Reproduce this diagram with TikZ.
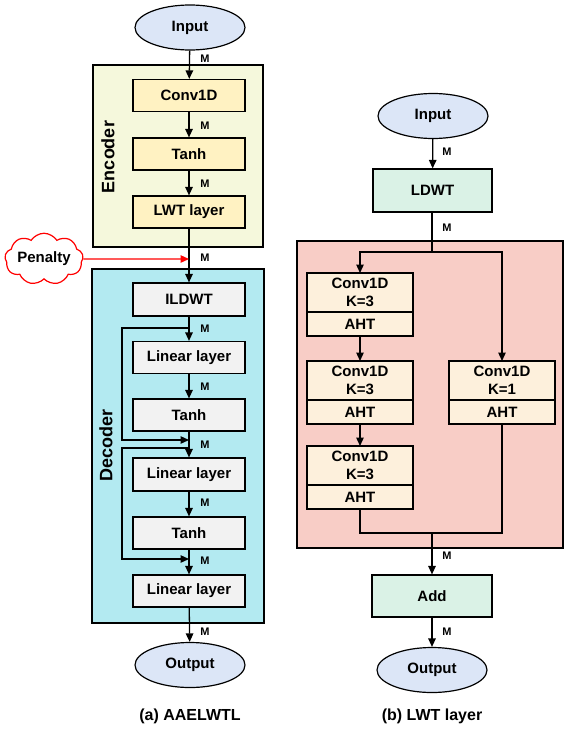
\documentclass[tikz,border=0pt]{standalone}
\usepackage{fontspec}
\setmainfont{Liberation Sans}
\usetikzlibrary{arrows.meta,positioning,shapes.geometric,shapes.symbols}

\definecolor{ellblue}{HTML}{DCE6F7}
\definecolor{encbg}{HTML}{F5F8DC}
\definecolor{encbox}{HTML}{FFF2C2}
\definecolor{decbg}{HTML}{B3EAF1}
\definecolor{decbox}{HTML}{F2F2F2}
\definecolor{mint}{HTML}{DAF2E6}
\definecolor{pinkbg}{HTML}{F8CDC6}
\definecolor{peach}{HTML}{FDF0DC}

\newcommand{\boxfont}{\bfseries\fontsize{15}{17.5}\selectfont}

\tikzset{
  arr/.style={line width=1.3pt, -{Triangle[length=8.5pt,width=7.5pt]}},
  wire/.style={line width=1.3pt},
  io/.style={ellipse, draw, line width=1.2pt, fill=ellblue, minimum width=110pt, minimum height=45pt, font=\boxfont},
  layerbox/.style={rectangle, draw, line width=1.2pt, minimum width=112pt, minimum height=32pt, font=\boxfont},
  convbox/.style={rectangle, draw, line width=1.2pt, fill=peach, minimum width=106pt, minimum height=39pt, inner sep=1pt, outer sep=0pt, align=center, font=\boxfont},
  ahtbox/.style={convbox, minimum height=24pt},
  mlab/.style={font=\bfseries\fontsize{11}{12}\selectfont, inner sep=0pt}
}

\begin{document}
\begin{tikzpicture}[x=1pt,y=-1pt]
        \useasboundingbox (0,0) rectangle (569,731);

        %background boxes for encoder, decoder and the LWT layer
        \draw[line width=1.2pt, fill=encbg] (93,65) rectangle (263,247);
        \draw[line width=1.2pt, fill=decbg] (92,269) rectangle (264,623);
        \draw[line width=1.2pt, fill=pinkbg] (297,241) rectangle (563,548);
        \node[rotate=90, font=\bfseries\fontsize{18}{20}\selectfont] (enclabel) at (108,157) {Encoder};
        \node[rotate=90, font=\bfseries\fontsize{18}{20}\selectfont] (declabel) at (106,445) {Decoder};

        %left part: AAELWTL
        \node[io] (inA) at (190,27.5) {Input};
        \node[layerbox, fill=encbox] (conv) at (189,95.5) {Conv1D};
        \node[layerbox, fill=encbox] (tanhA) at (189,154) {Tanh};
        \node[layerbox, fill=encbox] (lwt) at (189,212) {LWT layer};
        \node[layerbox, fill=decbox, minimum height=33pt] (ildwt) at (189,299.5) {ILDWT};
        \node[layerbox, fill=decbox] (linA) at (189,357.5) {Linear layer};
        \node[layerbox, fill=decbox] (tanhB) at (189,415) {Tanh};
        \node[layerbox, fill=decbox, minimum height=33pt] (linB) at (189,474.5) {Linear layer};
        \node[layerbox, fill=decbox] (tanhC) at (189,533) {Tanh};
        \node[layerbox, fill=decbox] (linC) at (189,591) {Linear layer};
        \node[io] (outA) at (190,665) {Output};
        \node[cloud, cloud puffs=9, cloud puff arc=115, aspect=1.9, draw=red, line width=1.2pt, fill=white, inner sep=0pt, minimum width=78pt, minimum height=42pt, font=\boxfont] (penalty) at (44,259) {Penalty};

        \coordinate (pen) at (189,259);
        \coordinate (s1) at (189,328);
        \coordinate (j1) at (189,440);
        \coordinate (s2) at (189,448);
        \coordinate (j2) at (189,559);

        \draw[arr] (inA) -- (conv);
        \draw[arr] (conv) -- (tanhA);
        \draw[arr] (tanhA) -- (lwt);
        \draw[arr] (lwt) -- (ildwt);
        \draw[arr, red] (penalty.east) -- (pen);
        \draw[arr] (ildwt) -- (linA);
        \draw[arr] (linA) -- (tanhB);
        \draw[arr] (tanhB) -- (linB);
        \draw[arr] (linB) -- (tanhC);
        \draw[arr] (tanhC) -- (linC);
        \draw[arr] (linC) -- (outA);
        %skip connections
        \draw[arr] (s1) -- ++(-67,0) |- (j1);
        \draw[arr] (s2) -- ++(-67,0) |- (j2);

        \node[mlab] (mA1) at (205,59) {M};
        \node[mlab] (mA2) at (205,126) {M};
        \node[mlab] (mA3) at (205,184) {M};
        \node[mlab] (mA4) at (205,258) {M};
        \node[mlab] (mA5) at (205,329) {M};
        \node[mlab] (mA6) at (205,387) {M};
        \node[mlab] (mA7) at (205,445) {M};
        \node[mlab] (mA8) at (205,503) {M};
        \node[mlab] (mA9) at (205,561) {M};
        \node[mlab] (mA10) at (205,632) {M};

        %right part: LWT layer
        \node[io] (inB) at (433,116) {Input};
        \node[layerbox, fill=mint, minimum width=119pt, minimum height=43pt] (ldwt) at (432.5,190.5) {LDWT};
        \node[convbox] (cA) at (360,292.5) {Conv1D\\K=3};
        \node[ahtbox, below=0pt of cA] (aA) {AHT};
        \node[convbox] (cB) at (360,380.5) {Conv1D\\K=3};
        \node[ahtbox, below=0pt of cB] (aB) {AHT};
        \node[convbox] (cC) at (360,465.5) {Conv1D\\K=3};
        \node[ahtbox, below=0pt of cC] (aC) {AHT};
        \node[convbox] (cR) at (502,380.5) {Conv1D\\K=1};
        \node[ahtbox, below=0pt of cR] (aR) {AHT};
        \node[layerbox, fill=mint, minimum width=120pt, minimum height=42pt] (add) at (432,596) {Add};
        \node[io] (outB) at (432,670) {Output};

        \coordinate (sp) at (432,252);
        \coordinate (mg) at (432,533);

        \draw[arr] (inB) -- (ldwt);
        \draw[wire] (ldwt.south -| sp) -- (sp);
        \draw[arr] (sp) -| (cA);
        \draw[arr] (sp) -| (cR);
        \draw[arr] (aA) -- (cB);
        \draw[arr] (aB) -- (cC);
        \draw[wire] (aC) |- (mg);
        \draw[wire] (aR) |- (mg);
        \draw[arr] (mg) -- (add);
        \draw[arr] (add) -- (outB);

        \node[mlab] (mB1) at (447,152) {M};
        \node[mlab] (mB2) at (447,228) {M};
        \node[mlab] (mB3) at (447,556) {M};
        \node[mlab] (mB4) at (447,632) {M};

        %captions
        \node[font=\bfseries\fontsize{16}{18}\selectfont] (capA) at (190,716) {(a) AAELWTL};
        \node[font=\bfseries\fontsize{16}{18}\selectfont] (capB) at (432,716) {(b) LWT layer};
\end{tikzpicture}
\end{document}
